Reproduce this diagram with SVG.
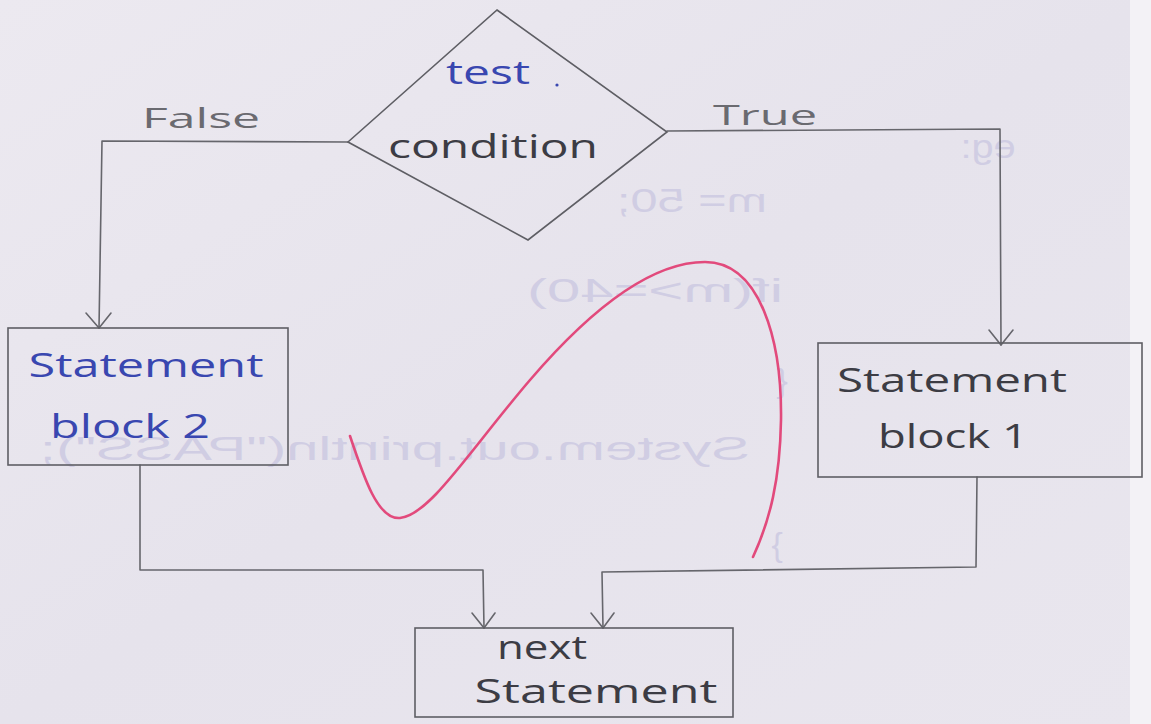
<svg xmlns="http://www.w3.org/2000/svg" width="1151" height="724" viewBox="0 0 1151 724">
<defs>
<style>
.ln{fill:none;stroke:#66666c;stroke-width:1.6;stroke-linecap:round;stroke-linejoin:round}
.box{fill:none;stroke:#5e5e64;stroke-width:1.6}
.blue{font-family:"Open Sans","Liberation Sans",sans-serif;fill:#3947b0;font-size:32px}
.dark{font-family:"Open Sans","Liberation Sans",sans-serif;fill:#3c3c44;font-size:32px}
.lbl{font-family:"Open Sans","Liberation Sans",sans-serif;fill:#6a6a70;font-size:28px}
.ghost{font-family:"Liberation Sans",sans-serif;fill:#d0cde3;font-size:34px}
</style>
<linearGradient id="bg" x1="0" y1="0" x2="1" y2="1">
<stop offset="0" stop-color="#ece9f0"/>
<stop offset="0.5" stop-color="#e6e3ec"/>
<stop offset="1" stop-color="#e9e6ee"/>
</linearGradient>
</defs>
<rect x="0" y="0" width="1151" height="724" fill="url(#bg)"/>
<rect x="1130" y="0" width="21" height="724" fill="#f3f2f6"/>

<g id="bleed-through">
<text class="ghost" x="692" y="212" text-anchor="middle" textLength="150" lengthAdjust="spacingAndGlyphs" transform="matrix(-1 0 0 1 1384 0)">m= 50;</text>
<text class="ghost" x="655" y="302" text-anchor="middle" textLength="256" lengthAdjust="spacingAndGlyphs" transform="matrix(-1 0 0 1 1310 0)">if(m&gt;=40)</text>
<text class="ghost" x="782" y="392" text-anchor="middle" transform="matrix(-1 0 0 1 1564 0)">{</text>
<text class="ghost" x="395" y="460" text-anchor="middle" textLength="710" lengthAdjust="spacingAndGlyphs" transform="matrix(-1 0 0 1 790 0)">System.out.println("PASS");</text>
<text class="ghost" x="777" y="556" text-anchor="middle" transform="matrix(-1 0 0 1 1554 0)">}</text>
<text class="ghost" x="988" y="158" text-anchor="middle" font-size="26" textLength="55" lengthAdjust="spacingAndGlyphs" transform="matrix(-1 0 0 1 1976 0)">eg:</text>
</g>

<g id="connectors">
<polyline class="ln" points="348,142 102,141 99,328"/>
<polyline class="ln" points="86,313 99,328 111,313"/>
<polyline class="ln" points="667,131 1000,129 1001,345"/>
<polyline class="ln" points="989,330 1001,345 1013,330"/>
<polyline class="ln" points="140,465 140,570 483,570 484,628"/>
<polyline class="ln" points="472,613 484,628 495,613"/>
<polyline class="ln" points="977,477 976,567 602,572 603,628"/>
<polyline class="ln" points="591,613 603,628 614,613"/>
<text class="lbl" x="201" y="128" text-anchor="middle" textLength="118" lengthAdjust="spacingAndGlyphs">False</text>
<text class="lbl" x="765" y="125" text-anchor="middle" textLength="104" lengthAdjust="spacingAndGlyphs">True</text>
</g>

<g id="test-condition">
<polygon class="box" points="497,10 667,132 528,240 348,142"/>
<text class="blue" x="488" y="84" text-anchor="middle" font-size="28" textLength="84" lengthAdjust="spacingAndGlyphs">test</text>
<circle cx="557" cy="85" r="1.6" fill="#3947b0"/>
<text class="dark" x="493" y="158" text-anchor="middle" font-size="34" textLength="210" lengthAdjust="spacingAndGlyphs">condition</text>
</g>

<g id="statement-block-2">
<rect class="box" x="8" y="328" width="280" height="137"/>
<text class="blue" x="146" y="377" text-anchor="middle" textLength="235" lengthAdjust="spacingAndGlyphs">Statement</text>
<text class="blue" x="130" y="438" text-anchor="middle" textLength="160" lengthAdjust="spacingAndGlyphs">block 2</text>
</g>

<g id="statement-block-1">
<rect class="box" x="818" y="343" width="324" height="134"/>
<text class="dark" x="952" y="392" text-anchor="middle" textLength="230" lengthAdjust="spacingAndGlyphs">Statement</text>
<text class="dark" x="953" y="448" text-anchor="middle" textLength="150" lengthAdjust="spacingAndGlyphs">block 1</text>
</g>

<g id="next-statement">
<rect class="box" x="415" y="628" width="318" height="89"/>
<text class="dark" x="542" y="659" text-anchor="middle" font-size="25" textLength="90" lengthAdjust="spacingAndGlyphs">next</text>
<text class="dark" x="596" y="703" text-anchor="middle" font-size="30" textLength="243" lengthAdjust="spacingAndGlyphs">Statement</text>
</g>

<g id="check-mark">
<path d="M350,436 C364,478 378,520 400,518 C430,515 470,450 530,380 C590,310 650,262 705,262 C760,262 782,340 781,420 C780,480 770,520 753,557" fill="none" stroke="#e24a7c" stroke-width="2.6" stroke-linecap="round"/>
</g>
</svg>
